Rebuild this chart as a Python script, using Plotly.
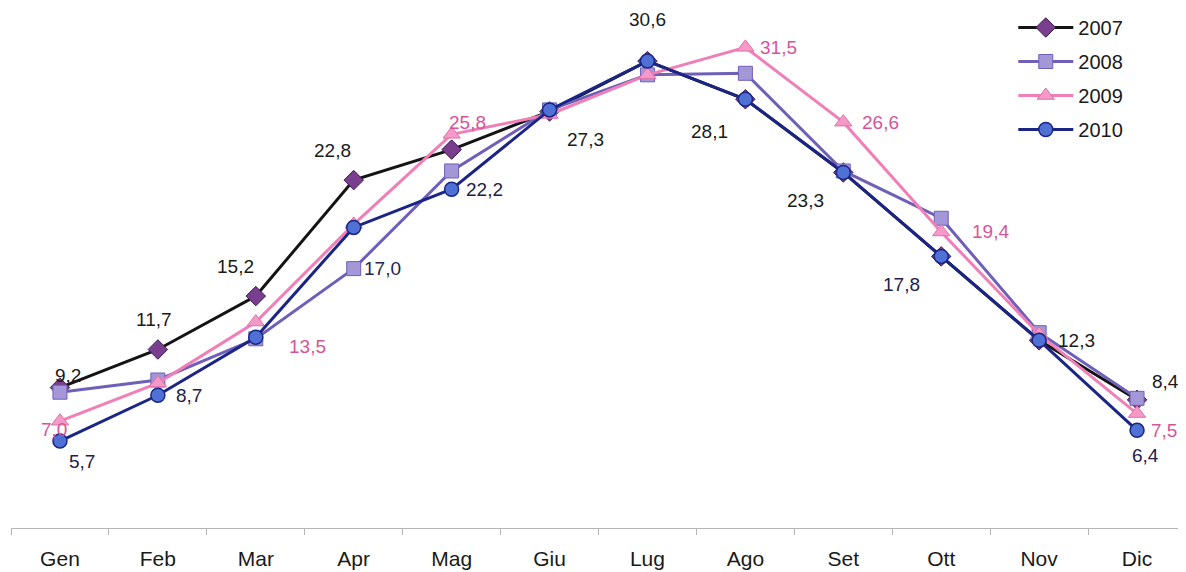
import plotly.graph_objects as go

months = ["Gen", "Feb", "Mar", "Apr", "Mag", "Giu", "Lug", "Ago", "Set", "Ott", "Nov", "Dic"]
y2007 = [9.2, 11.7, 15.2, 22.8, 24.8, 27.3, 30.6, 28.1, 23.3, 17.8, 12.3, 8.4]
y2008 = [8.9, 9.7, 12.4, 17.0, 23.4, 27.4, 29.7, 29.8, 23.4, 20.3, 12.8, 8.5]
y2009 = [7.0, 9.5, 13.5, 19.9, 25.8, 27.1, 29.7, 31.5, 26.6, 19.4, 12.7, 7.5]
y2010 = [5.7, 8.7, 12.5, 19.7, 22.2, 27.4, 30.6, 28.1, 23.3, 17.8, 12.3, 6.4]

series = {"2007": y2007, "2008": y2008, "2009": y2009, "2010": y2010}

# which points carry a value label (month indices per series)
labels_2007 = [0, 1, 2, 3, 5, 6, 7, 8, 10, 11]
labels_2008 = [3]
labels_2009 = [0, 2, 4, 7, 8, 9, 11]
labels_2010 = [0, 1, 4, 9, 11]

styles = {
    "2007": dict(line=dict(color="#141414", width=3),
                 marker=dict(symbol="diamond", size=15, color="#7a3e8e",
                             line=dict(color="#3e1a4e", width=1))),
    "2008": dict(line=dict(color="#6e5fb8", width=3),
                 marker=dict(symbol="square", size=14, color="#a497d8",
                             line=dict(color="#6e5fb8", width=1))),
    "2009": dict(line=dict(color="#f07fb8", width=3),
                 marker=dict(symbol="triangle-up", size=15, color="#f59ac8",
                             line=dict(color="#e070a8", width=1))),
    "2010": dict(line=dict(color="#1b2585", width=3),
                 marker=dict(symbol="circle", size=14, color="#4f70d4",
                             line=dict(color="#1b2585", width=1.5))),
}

label_color = {"2007": "#1a1a1a", "2008": "#23264f", "2009": "#d4559b", "2010": "#1d2148"}

# label offsets (pixels) per labelled point
offsets = {
    ("2007", 0): (8, 12), ("2007", 1): (-4, 30), ("2007", 2): (-20, 30),
    ("2007", 3): (-21, 30), ("2007", 5): (36, -28), ("2007", 6): (0, 42),
    ("2007", 7): (-36, -32), ("2007", 8): (-38, -28), ("2007", 10): (37, 0),
    ("2007", 11): (28, 18),
    ("2008", 3): (29, 0),
    ("2009", 0): (-6, -8), ("2009", 2): (52, -24), ("2009", 4): (16, 12),
    ("2009", 7): (33, 0), ("2009", 8): (37, 0), ("2009", 9): (49, 0),
    ("2009", 11): (27, -17),
    ("2010", 0): (22, -20), ("2010", 1): (31, 0), ("2010", 4): (33, 0),
    ("2010", 9): (-40, -28), ("2010", 11): (8, -25),
}

label_map = {"2007": labels_2007, "2008": labels_2008, "2009": labels_2009, "2010": labels_2010}

fig = go.Figure()
for name, vals in series.items():
    fig.add_trace(go.Scatter(x=months, y=vals, mode="lines+markers", name=name,
                             legendgroup=name, **styles[name]))

annotations = []
for name, idxs in label_map.items():
    vals = series[name]
    for i in idxs:
        dx, dy = offsets[(name, i)]
        annotations.append(dict(
            x=months[i], y=vals[i], xref="x", yref="y",
            text=f"{vals[i]:.1f}".replace(".", ","), showarrow=False,
            xshift=dx, yshift=dy,
            font=dict(family="Liberation Sans, Arial", size=19, color=label_color[name]),
        ))

fig.update_layout(
    width=1178, height=564,
    margin=dict(l=3, r=0, t=0, b=44),
    paper_bgcolor="white", plot_bgcolor="white",
    font=dict(family="Liberation Sans, Arial", size=18, color="#1a1a1a"),
    annotations=annotations,
    legend=dict(x=0.853, y=1.0, xanchor="left", yanchor="top",
                font=dict(size=20, color="#1a1a1a"), tracegroupgap=5,
                bgcolor="rgba(0,0,0,0)", itemwidth=55),
    showlegend=True,
)
fig.update_xaxes(type="category", showline=True, linecolor="#b5b5b5", linewidth=1,
                 ticks="outside", tickson="boundaries", ticklen=6, tickcolor="#b5b5b5",
                 showgrid=False, zeroline=False, ticklabelstandoff=12,
                 tickfont=dict(size=21, color="#1a1a1a"), range=[-0.5, 11.5])
fig.update_yaxes(range=[0, 34.08], visible=False, showgrid=False, zeroline=False)

fig.write_html("out.html")
